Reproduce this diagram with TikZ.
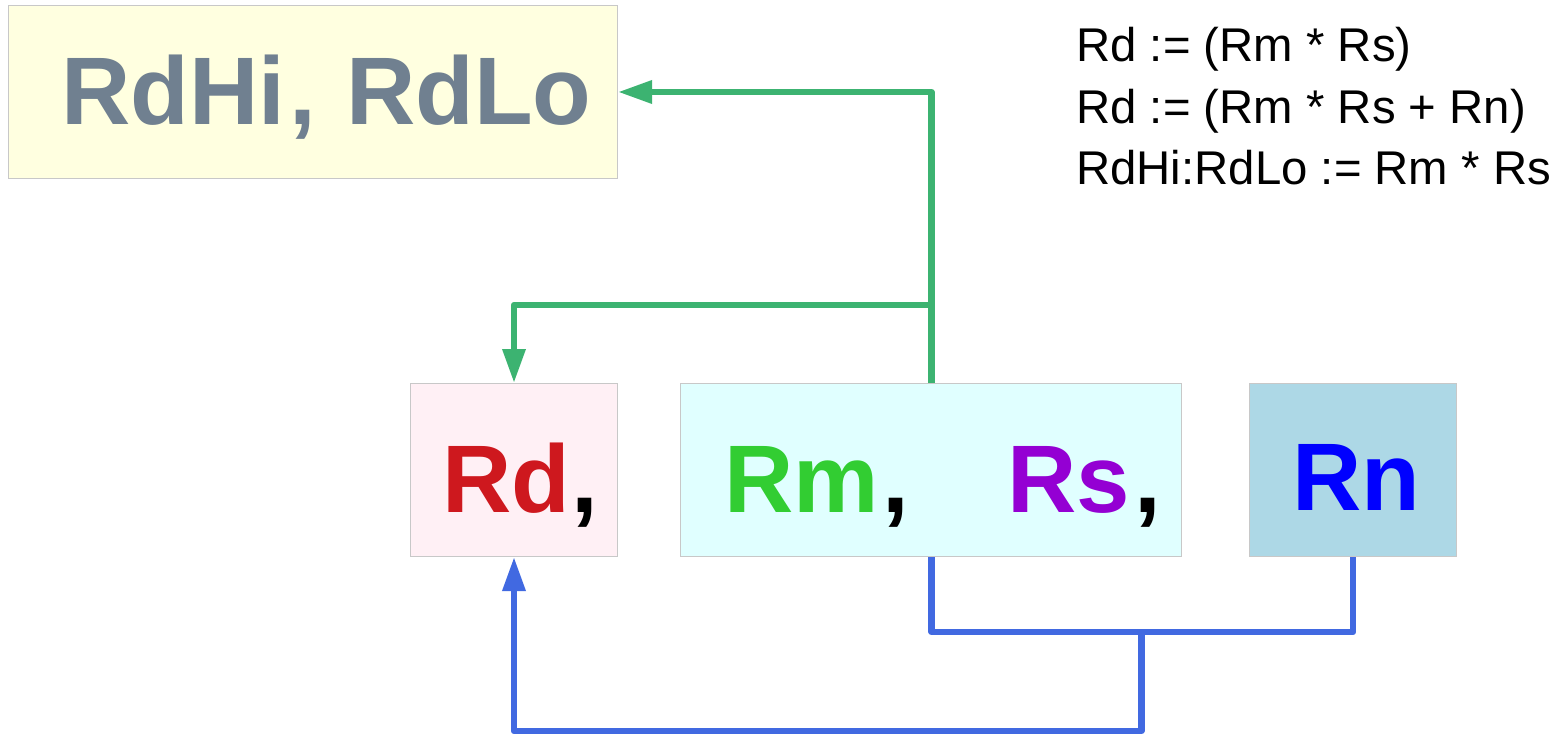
\documentclass[tikz,border=0pt]{standalone}
\usepackage{fontspec}
\setmainfont{Liberation Sans}
\usetikzlibrary{arrows.meta}
\definecolor{boxedge}{RGB}{200,200,200}
\definecolor{hilofill}{RGB}{255,255,224}
\definecolor{rdfill}{RGB}{255,240,245}
\definecolor{rmfill}{RGB}{224,255,255}
\definecolor{rnfill}{RGB}{173,216,230}
\definecolor{slate}{RGB}{112,128,144}
\definecolor{rdred}{RGB}{206,24,30}
\definecolor{rmgreen}{RGB}{50,205,50}
\definecolor{rsviolet}{RGB}{148,0,211}
\definecolor{rnblue}{RGB}{0,0,255}
\definecolor{gline}{RGB}{60,179,113}
\definecolor{bline}{RGB}{65,105,225}
\tikzset{
  regbox/.style={draw=boxedge, line width=0.75pt, inner sep=0pt, anchor=north west},
  bigtxt/.style={inner sep=0pt, anchor=base west, font=\fontsize{72}{86}\selectfont\bfseries},
  eqtxt/.style={inner sep=0pt, anchor=base west, font=\fontsize{35.5}{42}\selectfont},
  greenline/.style={draw=gline, line width=4.8pt, line join=round},
  blueline/.style={draw=bline, line width=4.8pt, line join=round},
  tip/.style={-{Triangle[length=25.5pt,width=16.5pt]}}
}
\begin{document}
\begin{tikzpicture}[x=0.75pt,y=-0.75pt]
\useasboundingbox (0,0) rectangle (1566,734);
% boxes
\node[regbox, fill=hilofill, minimum width=609*0.75pt, minimum height=173*0.75pt] (hilo) at (8,5) {};
\node[regbox, fill=rdfill, minimum width=207*0.75pt, minimum height=173*0.75pt] (rd) at (410,383) {};
\node[regbox, fill=rmfill, minimum width=501*0.75pt, minimum height=173*0.75pt] (rmrs) at (680,383) {};
\node[regbox, fill=rnfill, minimum width=207*0.75pt, minimum height=173*0.75pt] (rn) at (1249,383) {};
% texts
\node[bigtxt, text=slate] (thi) at (61,125) {RdHi};
\node[bigtxt, text=slate] (tc0) at (289,125) {,};
\node[bigtxt, text=slate] (tlo) at (346,125) {RdLo};
\node[bigtxt, text=rdred] (trd) at (442,512) {Rd};
\node[bigtxt, text=black] (tc1) at (571,512) {,};
\node[bigtxt, text=rmgreen] (trm) at (724,512) {Rm};
\node[bigtxt, text=black] (tc2) at (882,512) {,};
\node[bigtxt, text=rsviolet] (trs) at (1007,512) {Rs};
\node[bigtxt, text=black] (tc3) at (1134,512) {,};
\node[bigtxt, text=rnblue] (trn) at (1292,510) {Rn};
\node[eqtxt] (eq1) at (1076,62) {Rd := (Rm * Rs)};
\node[eqtxt] (eq2) at (1076,123.5) {Rd := (Rm * Rs + Rn)};
\node[eqtxt] (eq3) at (1076,185) {RdHi:RdLo := Rm * Rs};
% connectors
\coordinate (gj) at (931.5,305);
\coordinate (bj) at (1141.5,632);
\coordinate (bb) at (1141.5,731);
\draw[greenline] (rmrs.north -| gj) -- (gj);
\draw[greenline, tip] (gj) |- (hilo.east);
\draw[greenline, tip] (gj) -| (rd.north);
\draw[blueline] (rmrs.south -| gj) |- (bj) -| (rn.south);
\draw[blueline, tip] (bj) -- (bb) -| (rd.south);
\end{tikzpicture}
\end{document}
